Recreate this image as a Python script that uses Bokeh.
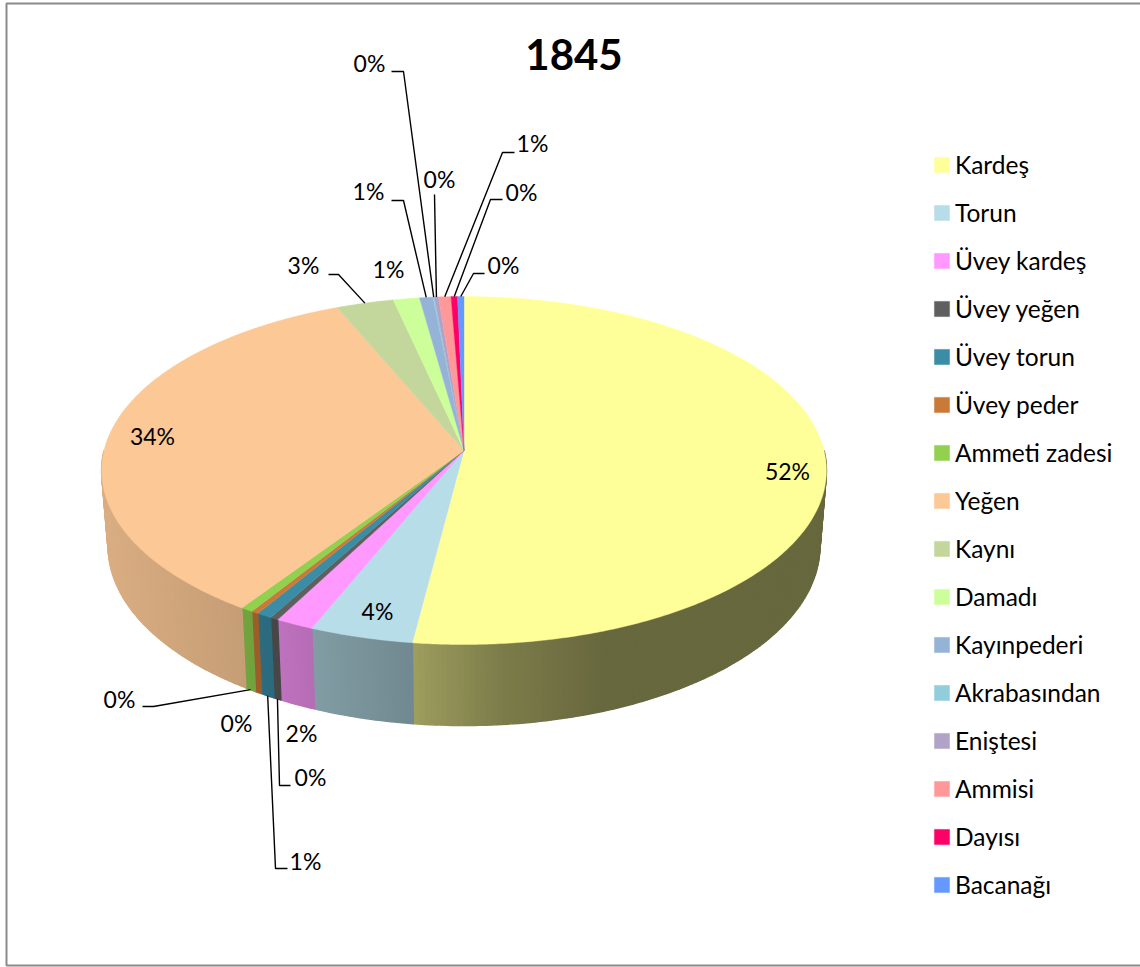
import numpy as np
from bokeh.plotting import figure
from bokeh.models import ColumnDataSource, Legend, LegendItem
from bokeh.core.properties import value
from bokeh.embed import file_html
from bokeh.resources import INLINE

# ---- data -----------------------------------------------------------------
title = "1845"
categories = ["Kardeş", "Torun", "Üvey kardeş", "Üvey yeğen", "Üvey torun", "Üvey peder",
              "Ammeti zadesi", "Yeğen", "Kaynı", "Damadı", "Kayınpederi", "Akrabasından",
              "Enişte" + "si", "Ammisi", "Dayısı", "Bacanağı"]
shares = [52.03, 4.14, 1.53, 0.33, 0.61, 0.30, 0.49, 34.20, 2.86, 1.31, 0.67, 0.07, 0.20, 0.62, 0.32, 0.32]
colors = ["#FFFF99", "#B7DDE8", "#FF99FF", "#5F5F5F", "#3B8CA5", "#C97A38", "#92D050", "#FBC896",
          "#C3D69B", "#CCFF99", "#95B3D7", "#92CDDC", "#B2A2C7", "#FF9999", "#FF0066", "#6699FF"]

# ---- layout (pixel space of the chart area) -------------------------------
W, H = 1140, 967
TILT = 0.115          # perspective of the disc
TOP = dict(cx=463.5, y0=450.0, A=360.0, B=171.7)
BOT = dict(cx=463.5, y0=525.0, A=353.5, B=177.0)
shade_x = [101, 240, 312, 412, 500, 600, 826]
shade_k = [.87, .79, .71, .62, .49, .41, .41]

label_pos = [(787, 470), (377, 610), (301, 732), (310, 776), (305, 860), (236, 722), (119, 698), (152, 435),
             (303, 264), (388, 268), (368, 190), (369, 62), (439, 178), (532, 142), (521, 191), (503, 264)]
# per category: elbow and end of the leader line; rim the leader starts from
leaders = {3: ("bot", (279, 785), (290, 785)),
           4: ("bot", (275, 868), (287, 868)),
           6: ("bot", (153, 706), (142, 706)),
           8: ("top", (338, 274), (328, 274)),
           10: ("top", (403, 200), (391, 200)),
           11: ("top", (403, 71), (391, 71)),
           12: ("top", (434, 194), (434, 194)),
           13: ("top", (502, 152), (514, 152)),
           14: ("top", (490, 199), (502, 199)),
           15: ("top", (473, 273), (484, 273))}


def project(theta, g):
    """theta in degrees, clockwise from the back of the disc."""
    t = np.radians(theta)
    u, v = np.sin(t), np.cos(t)
    w = 1 + TILT * v
    return g["cx"] + g["A"] * u / w, g["y0"] - g["B"] * v / w


def to_hex(c, k):
    r, g, b = (int(c[i:i + 2], 16) for i in (1, 3, 5))
    return "#%02x%02x%02x" % (int(r * k), int(g * k), int(b * k))


vals = np.array(shares)
edges = np.concatenate([[0], np.cumsum(vals) / vals.sum() * 360])
labels = [f"{round(s)}%" for s in shares]

p = figure(width=W, height=H, x_range=(0, W), y_range=(H, 0), x_axis_type=None, y_axis_type=None,
           output_backend="svg", toolbar_location=None, min_border=0, outline_line_color=None,
           background_fill_color="white", border_fill_color="white")
p.grid.visible = False

# chart frame (cut off by the right edge as in the source picture)
p.line([W, 6, 6, W], [3, 3, 965, 965], line_color="#8a8a8a", line_width=2)

# side wall of the disc: narrow strips shaded by horizontal position
strip_x, strip_y, strip_c = [], [], []
for i, c in enumerate(colors):
    a0, a1 = max(edges[i], 90.0), min(edges[i + 1], 270.0)
    if a1 <= a0:
        continue
    n = max(1, int(np.ceil((a1 - a0) / 0.8)))
    th = np.linspace(a0, a1, n + 1)
    for t0, t1 in zip(th[:-1], th[1:]):
        x0, y0 = project(t0, TOP)
        x1, y1 = project(t1, TOP)
        x2, y2 = project(t1, BOT)
        x3, y3 = project(t0, BOT)
        strip_x.append([x0, x1, x2, x3])
        strip_y.append([y0, y1, y2, y3])
        strip_c.append(to_hex(c, float(np.interp((x0 + x1) / 2, shade_x, shade_k))))
p.patches("x", "y", source=ColumnDataSource(dict(x=strip_x, y=strip_y, c=strip_c)),
          fill_color="c", line_color="c", line_width=1.5)

# top face
cx0, cy0 = project(0, TOP)[0], TOP["y0"]
items = []
for i, c in enumerate(colors):
    n = max(2, int(np.ceil((edges[i + 1] - edges[i]) / 0.5)))
    th = np.linspace(edges[i], edges[i + 1], n + 1)
    xs, ys = project(th, TOP)
    r = p.patch(np.r_[cx0, xs], np.r_[cy0, ys], fill_color=c, line_color=c, line_width=0.4)
    items.append(LegendItem(label=categories[i], renderers=[r]))

# leader lines
for i, (rim, elbow, end) in leaders.items():
    mid = (edges[i] + edges[i + 1]) / 2
    ax, ay = project(mid, TOP if rim == "top" else BOT)
    p.line([ax, elbow[0], end[0]], [ay, elbow[1], end[1]], line_color="#000000", line_width=1.4)

# data labels
p.text([q[0] for q in label_pos], [q[1] for q in label_pos], text=labels, text_font=value("Lato"),
       text_font_size="23px", text_color="#000000", text_align="center", text_baseline="middle")

# title
p.text([573.5], [54], text=[title], text_font=value("Lato"), text_font_style="bold",
       text_font_size="42px", text_color="#000000", text_align="center", text_baseline="middle")

legend = Legend(items=items, location=(932, 68), orientation="vertical",
                background_fill_alpha=0, border_line_color=None, margin=0, padding=0,
                glyph_width=19, glyph_height=19, label_standoff=4, spacing=19, label_height=28,
                label_text_font="Lato", label_text_font_size="24.5px", label_text_color="#000000")
p.add_layout(legend, "center")

open("out.html", "w").write(file_html(p, INLINE))
